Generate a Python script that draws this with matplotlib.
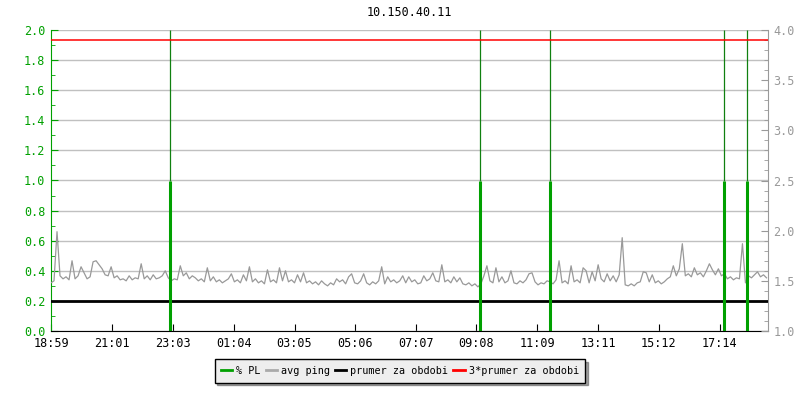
import matplotlib
matplotlib.use("Agg")
import matplotlib.pyplot as plt
from matplotlib.ticker import MultipleLocator, FixedLocator
from matplotlib.lines import Line2D
import numpy as np

# ---------------- data ----------------
title = "10.150.40.11"
tick_labels = ["18:59", "21:01", "23:03", "01:04", "03:05", "05:06",
               "07:07", "09:08", "11:09", "13:11", "15:12", "17:14"]
span_minutes = 1431          # visible time span from 18:59

# packet loss events (minutes since 18:59) and value (left axis)
pl_times = [238, 856, 996, 1343, 1389]
pl_values = [1.0, 1.0, 1.0, 1.0, 1.0]

# avg ping samples every 6 minutes (right axis units)
ping_step = 6
ping_values = [
    1.48, 1.50, 1.99, 1.55, 1.52, 1.54, 1.51, 1.70, 1.52, 1.55,
    1.64, 1.58, 1.52, 1.54, 1.69, 1.70, 1.66, 1.62, 1.56, 1.55,
    1.64, 1.53, 1.55, 1.51, 1.52, 1.50, 1.55, 1.51, 1.53, 1.52,
    1.67, 1.52, 1.55, 1.51, 1.56, 1.52, 1.53, 1.55, 1.60, 1.53,
    1.50, 1.52, 1.51, 1.65, 1.55, 1.58, 1.52, 1.55,
    1.53, 1.50, 1.52, 1.49, 1.63, 1.50, 1.54, 1.49, 1.51, 1.48,
    1.50, 1.52, 1.57, 1.49, 1.51, 1.48, 1.56, 1.50, 1.64, 1.49,
    1.52, 1.48, 1.50, 1.47, 1.61, 1.49, 1.51, 1.48, 1.63, 1.50,
    1.60, 1.49, 1.51, 1.48, 1.56, 1.49, 1.58, 1.48, 1.50, 1.47,
    1.49, 1.46, 1.50, 1.47, 1.45, 1.48, 1.46, 1.52,
    1.49, 1.51, 1.47, 1.54, 1.57, 1.48, 1.47, 1.50, 1.57, 1.48,
    1.46, 1.49, 1.47, 1.50, 1.64, 1.47, 1.54, 1.49, 1.51, 1.48,
    1.50, 1.55, 1.48, 1.54, 1.49, 1.51, 1.47, 1.48, 1.55, 1.50,
    1.52, 1.58, 1.50, 1.49, 1.66, 1.49, 1.51, 1.48, 1.54, 1.49,
    1.53, 1.47, 1.46, 1.48, 1.45, 1.47, 1.44, 1.47,
    1.55, 1.65, 1.50, 1.48, 1.63, 1.49, 1.54, 1.48, 1.50, 1.60,
    1.48, 1.47, 1.50, 1.48, 1.51, 1.57, 1.58, 1.49, 1.46, 1.48,
    1.47, 1.50, 1.49, 1.47, 1.51, 1.70, 1.48, 1.50, 1.47, 1.65,
    1.49, 1.51, 1.48, 1.63, 1.60, 1.48, 1.59, 1.50, 1.66, 1.52,
    1.49, 1.57, 1.50, 1.55, 1.49, 1.56, 1.93,
    1.46, 1.45, 1.47, 1.45, 1.48, 1.49, 1.59, 1.58, 1.49, 1.56,
    1.48, 1.50, 1.47, 1.49, 1.52, 1.54, 1.65, 1.55, 1.62, 1.87,
    1.55, 1.57, 1.54, 1.63, 1.56, 1.58, 1.54, 1.60, 1.67, 1.61,
    1.56, 1.62, 1.55, 1.57, 1.52, 1.54, 1.51, 1.53, 1.52, 1.87,
    1.48, 1.55, 1.53, 1.56, 1.59, 1.54, 1.56, 1.53,
]
mean_value = 1.3
mean3_value = 3.9

labels = ["% PL", "avg ping", "prumer za obdobi", "3*prumer za obdobi"]

# ---------------- style ----------------
GREEN = "#00a000"
GRAY = "#999999"
FONT = "DejaVu Sans Mono"
FS = 8.5
plt.rcParams["font.family"] = FONT

def hm_to_min(s):
    h, m = map(int, s.split(":"))
    h0, m0 = map(int, tick_labels[0].split(":"))
    return ((h * 60 + m) - (h0 * 60 + m0)) % 1440

tick_pos = [hm_to_min(s) for s in tick_labels]
ping_t = np.arange(len(ping_values)) * ping_step

fig = plt.figure(figsize=(8, 4), dpi=100)
ax = fig.add_axes([51 / 800, 69 / 400, (768 - 51) / 800, (331 - 30) / 400])
ax2 = ax.twinx()

ax.set_ylim(0, 2.0)
ax.set_xlim(0, span_minutes)
ax2.set_ylim(1.0, 4.0)

# right axis series
ax2.plot(ping_t, ping_values, color=GRAY, lw=0.9, zorder=2)
ax2.axhline(mean_value, color="black", lw=2, zorder=3)
ax2.axhline(mean3_value, color="red", lw=1.1, zorder=3)

# left axis series (drawn in top axes using left-axis coordinates)
ax2.vlines(pl_times, 0, pl_values, color=GREEN, lw=2.2, zorder=4,
           transform=ax.transData)
ax2.vlines(pl_times, pl_values, 2.0, color="#108010", lw=0.9, zorder=2.5,
           transform=ax.transData)
ax2.set_ylim(1.0, 4.0)
ax2.set_xlim(0, span_minutes)

ax.yaxis.set_major_locator(MultipleLocator(0.2))
ax.yaxis.set_minor_locator(MultipleLocator(0.1))
ax.yaxis.set_major_formatter(plt.FuncFormatter(lambda v, p: f"{v:.1f}"))
ax.grid(axis="y", color="#c0c0c0", lw=1)
ax.set_axisbelow(True)
ax.xaxis.set_major_locator(FixedLocator(tick_pos))
ax.set_xticklabels(tick_labels)

ax2.yaxis.set_major_locator(MultipleLocator(0.5))
ax2.yaxis.set_minor_locator(MultipleLocator(0.1))
ax2.yaxis.set_major_formatter(plt.FuncFormatter(lambda v, p: f"{v:.1f}"))

for a in (ax, ax2):
    a.spines["top"].set_visible(False)
ax.spines["right"].set_visible(False)
ax2.spines["left"].set_visible(False)
ax2.spines["bottom"].set_visible(False)
ax.spines["left"].set_color(GREEN)
ax2.spines["right"].set_color(GRAY)

ax.tick_params(axis="y", which="major", direction="in", length=5, color=GREEN,
               labelcolor=GREEN, labelsize=FS, pad=4)
ax.tick_params(axis="y", which="minor", direction="in", length=3, color=GREEN)
ax.tick_params(axis="x", direction="in", length=5, labelsize=FS, pad=4)
ax2.tick_params(axis="y", which="major", direction="in", length=5, color=GRAY,
                labelcolor=GRAY, labelsize=FS, pad=4)
ax2.tick_params(axis="y", which="minor", direction="in", length=3, color=GRAY)

ax.set_title(title, fontsize=FS, pad=10)

handles = [Line2D([], [], color=GREEN, lw=2),
           Line2D([], [], color="#aaaaaa", lw=2),
           Line2D([], [], color="black", lw=2),
           Line2D([], [], color="red", lw=2)]
leg = fig.legend(handles, labels, loc="center", bbox_to_anchor=(0.5, 1 - 371 / 400),
                 ncol=4, fontsize=7.3, frameon=True, shadow=True, fancybox=False,
                 handlelength=1.1, handletextpad=0.4, columnspacing=0.5,
                 borderpad=0.65, borderaxespad=0)
leg.get_frame().set_facecolor("#eeeeee")
leg.get_frame().set_edgecolor("black")
leg.get_frame().set_linewidth(1)
leg.get_frame().set_alpha(1)

fig.savefig("out.png", dpi=100)
